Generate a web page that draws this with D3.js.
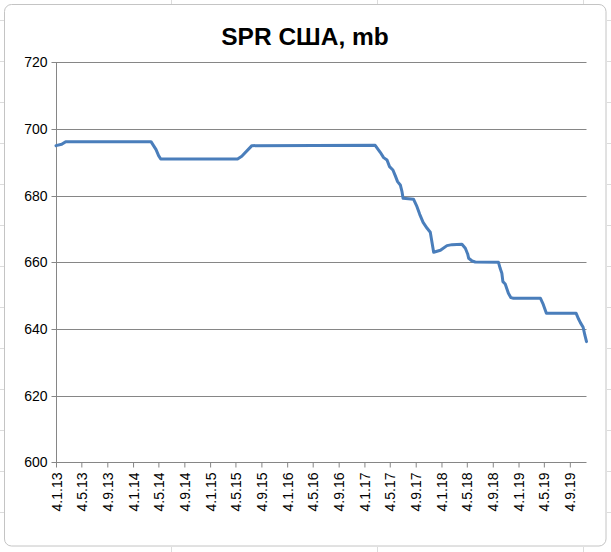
<!DOCTYPE html>
<html>
<head>
<meta charset="utf-8">
<script src="https://cdn.jsdelivr.net/npm/d3@7"></script>
<style>
  html, body { margin: 0; padding: 0; background: #ffffff; }
  svg { display: block; }
</style>
</head>
<body>
<svg id="chart" width="611" height="552"></svg>
<script>
// ---- data ----
const chartTitle = "SPR США, mb";
const dates = [
  "2013-01-04","2013-01-31","2013-02-19","2014-03-30","2014-04-23","2014-05-05","2014-05-15",
  "2015-05-14","2015-06-03","2015-07-21","2017-02-24","2017-03-20","2017-04-05","2017-04-21",
  "2017-05-03","2017-05-19","2017-05-30","2017-06-10","2017-06-23","2017-07-01","2017-07-06",
  "2017-08-25","2017-09-10","2017-09-23","2017-10-09","2017-10-28","2017-11-12","2017-11-28",
  "2017-12-30","2018-01-30","2018-02-23","2018-04-11","2018-04-27","2018-05-08","2018-05-13",
  "2018-05-29","2018-06-13","2018-10-01","2018-10-09","2018-10-17","2018-10-22","2018-11-02",
  "2018-11-17","2018-11-29","2018-12-11","2019-04-18","2019-04-29","2019-05-16","2019-10-04",
  "2019-10-16","2019-10-24","2019-11-06","2019-11-14","2019-11-22"
];
const values = [
  695.0, 695.4, 696.2, 696.2, 693.8, 692.0, 691.0,
  691.0, 691.8, 695.0, 695.1, 693.0, 691.4, 690.7,
  688.7, 687.7, 686.0, 684.2, 683.2, 681.2, 679.2,
  678.9, 676.7, 674.4, 672.0, 670.2, 669.0, 663.0,
  663.6, 665.0, 665.3, 665.4, 664.2, 662.5, 661.2,
  660.4, 660.1, 660.0, 658.2, 656.7, 654.2, 653.5,
  650.7, 649.4, 649.2, 649.2, 647.7, 644.7, 644.7,
  642.9, 641.9, 640.5, 638.2, 636.2
];
const xTickLabels = ["4.1.13","4.5.13","4.9.13","4.1.14","4.5.14","4.9.14","4.1.15","4.5.15","4.9.15",
  "4.1.16","4.5.16","4.9.16","4.1.17","4.5.17","4.9.17","4.1.18","4.5.18","4.9.18","4.1.19","4.5.19","4.9.19"];
const yTicks = [600, 620, 640, 660, 680, 700, 720];

// ---- layout ----
const W = 611, H = 552;
const L = 56, R = 586.5, T = 62.3, B = 462.3;
const axisColor = "#868686";
const font = "'Liberation Sans', Arial, sans-serif";

const svg = d3.select("#chart");
const parse = d3.timeParse("%Y-%m-%d");
const parseTick = d3.timeParse("%d.%m.%y");
const series = dates.map((d, i) => ({ date: parse(d), value: values[i] }));
const tickDates = xTickLabels.map(s => parseTick(s));
const labelOf = new Map(tickDates.map((d, i) => [+d, xTickLabels[i]]));

// spreadsheet backdrop and chart frame
svg.append("rect").attr("width", W).attr("height", H).attr("fill", "#ffffff");
const bg = svg.append("g").attr("stroke", "#dcdcdc").attr("stroke-width", 1);
[171.5, 377.5, 583.5].forEach(x => {
  bg.append("line").attr("x1", x).attr("x2", x).attr("y1", 0).attr("y2", 5);
  bg.append("line").attr("x1", x).attr("x2", x).attr("y1", 547).attr("y2", H);
});
[20.5, 61.5, 102.5, 143.5, 184.5, 225.5, 266.5, 307.5, 348.5, 389.5, 430.5, 471.5, 512.5].forEach(y => {
  bg.append("line").attr("x1", 0).attr("x2", 4).attr("y1", y).attr("y2", y);
  bg.append("line").attr("x1", 607).attr("x2", W).attr("y1", y).attr("y2", y);
});
svg.append("rect")
  .attr("x", 4.5).attr("y", 4.5).attr("width", 601.5).attr("height", 541.5)
  .attr("rx", 7).attr("ry", 7)
  .attr("fill", "#ffffff").attr("stroke", "#c4c4c4").attr("stroke-width", 1);

// scales
const x = d3.scaleTime()
  .domain([series[0].date, series[series.length - 1].date])
  .range([L, R]);
const y = d3.scaleLinear().domain([600, 720]).range([B, T]);

// title
svg.append("text")
  .attr("x", 305).attr("y", 45)
  .attr("text-anchor", "middle")
  .attr("font-family", font).attr("font-weight", "bold").attr("font-size", 24.5)
  .attr("fill", "#000")
  .text(chartTitle);

// gridlines
svg.append("g")
  .selectAll("line").data(yTicks.filter(v => v !== 600)).join("line")
  .attr("x1", L).attr("x2", R)
  .attr("y1", d => Math.round(y(d)) + 0.5).attr("y2", d => Math.round(y(d)) + 0.5)
  .attr("stroke", axisColor).attr("stroke-width", 1);

// y axis
const yAxis = svg.append("g")
  .attr("transform", `translate(${Math.round(L) + 0.5},0)`)
  .call(d3.axisLeft(y).tickValues(yTicks).tickSize(5).tickPadding(4).tickFormat(d3.format("d")));
yAxis.select(".domain").attr("stroke", axisColor).attr("d", `M0,${T}V${B}`);
yAxis.selectAll(".tick line").attr("stroke", axisColor);
yAxis.selectAll(".tick").attr("transform", d => `translate(0,${Math.round(y(d)) + 0.5})`);
yAxis.selectAll("text").attr("font-family", font).attr("font-size", 14).attr("fill", "#000");

// x axis
const xAxis = svg.append("g")
  .attr("transform", `translate(0,${Math.round(B) + 0.5})`)
  .call(d3.axisBottom(x).tickValues(tickDates).tickSize(5).tickFormat(d => labelOf.get(+d)));
xAxis.select(".domain").attr("stroke", axisColor).attr("d", `M${L},0H${R}`);
xAxis.selectAll(".tick line").attr("stroke", axisColor);
xAxis.selectAll("text")
  .attr("font-family", font).attr("font-size", 14).attr("fill", "#000")
  .attr("text-anchor", "end")
  .attr("transform", "rotate(-90)")
  .attr("x", -10).attr("y", 0).attr("dy", "0.36em");

// line
const line = d3.line().x(d => x(d.date)).y(d => y(d.value));
svg.append("path")
  .datum(series)
  .attr("d", line)
  .attr("fill", "none")
  .attr("stroke", "#4A7EBB")
  .attr("stroke-width", 3)
  .attr("stroke-linejoin", "round")
  .attr("stroke-linecap", "round");
</script>
</body>
</html>
